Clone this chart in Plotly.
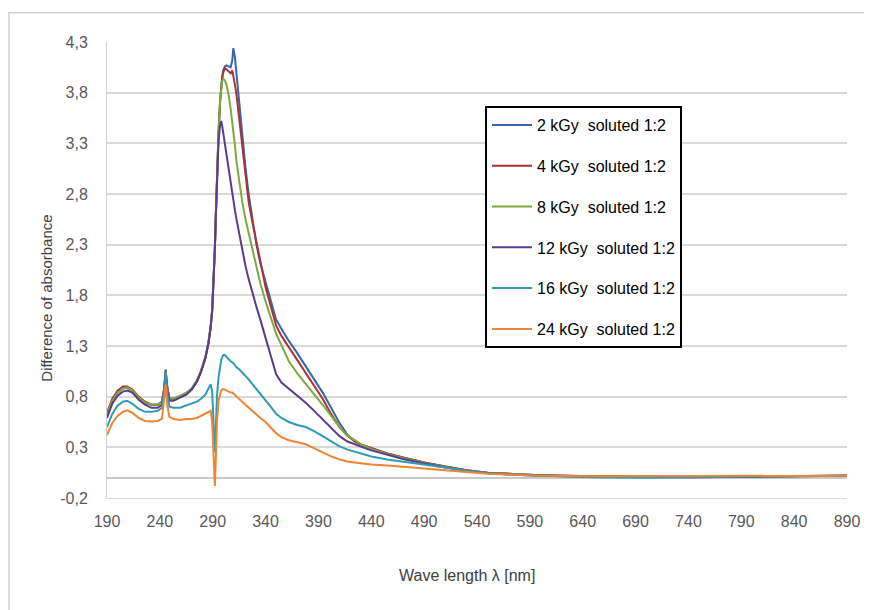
import plotly.graph_objects as go

wavelength = [190, 195, 200, 205, 209, 214, 220, 226, 232, 238, 242, 244, 245.5, 247, 249, 253, 259, 265, 270, 275,
              279, 283, 286, 288, 289.5, 291, 292, 293, 294, 295.5, 297, 298, 299, 300, 301.5, 303, 305, 307, 308.5, 309.5,
              311, 312.5, 315, 318, 321, 324, 327, 331, 335, 340, 345, 350, 355, 362, 370, 378, 386, 394, 402, 410,
              417, 424, 432, 440, 455, 470, 490, 510, 530, 550, 575, 600, 650, 700, 750, 800, 850, 890]

kgy2 = [0.62, 0.76, 0.84, 0.88, 0.89, 0.86, 0.79, 0.74, 0.72, 0.72, 0.75, 0.88, 1.07, 0.90, 0.78, 0.78, 0.80, 0.83, 0.87, 0.95,
        1.05, 1.18, 1.33, 1.48, 1.65, 1.95, 2.25, 2.60, 2.95, 3.40, 3.72, 3.86, 3.96, 4.02, 4.06, 4.07, 4.06, 4.05, 4.12, 4.24,
        4.15, 3.99, 3.68, 3.35, 3.06, 2.80, 2.58, 2.32, 2.12, 1.93, 1.76, 1.56, 1.47, 1.35, 1.23, 1.10, 0.97, 0.84, 0.69, 0.54,
        0.43, 0.36, 0.32, 0.29, 0.24, 0.20, 0.15, 0.11, 0.075, 0.05, 0.035, 0.025, 0.015, 0.01, 0.01, 0.015, 0.02, 0.02]

kgy4 = [0.64, 0.78, 0.86, 0.90, 0.90, 0.87, 0.80, 0.75, 0.72, 0.72, 0.75, 0.87, 1.05, 0.89, 0.78, 0.78, 0.80, 0.83, 0.87, 0.95,
        1.05, 1.18, 1.33, 1.48, 1.65, 1.95, 2.25, 2.60, 2.95, 3.40, 3.72, 3.86, 3.95, 4.00, 4.04, 4.03, 4.01, 3.99, 4.02, 3.97,
        3.88, 3.78, 3.55, 3.25, 2.97, 2.72, 2.55, 2.33, 2.14, 1.88, 1.69, 1.50, 1.40, 1.29, 1.17, 1.04, 0.91, 0.78, 0.63, 0.50,
        0.42, 0.36, 0.32, 0.29, 0.24, 0.20, 0.15, 0.11, 0.075, 0.05, 0.035, 0.025, 0.015, 0.01, 0.01, 0.015, 0.02, 0.02]

kgy8 = [0.62, 0.76, 0.84, 0.88, 0.89, 0.86, 0.79, 0.74, 0.72, 0.72, 0.75, 0.87, 1.04, 0.89, 0.78, 0.78, 0.81, 0.84, 0.88, 0.96,
        1.06, 1.19, 1.34, 1.49, 1.66, 1.96, 2.27, 2.62, 2.97, 3.42, 3.72, 3.85, 3.92, 3.94, 3.92, 3.88, 3.78, 3.64, 3.52, 3.43,
        3.28, 3.12, 2.93, 2.72, 2.55, 2.41, 2.27, 2.08, 1.92, 1.74, 1.59, 1.42, 1.31, 1.15, 1.03, 0.93, 0.83, 0.72, 0.61, 0.50,
        0.42, 0.37, 0.32, 0.285, 0.235, 0.195, 0.145, 0.105, 0.07, 0.048, 0.033, 0.023, 0.013, 0.008, 0.008, 0.013, 0.018, 0.02]

kgy12 = [0.59, 0.73, 0.81, 0.85, 0.86, 0.84, 0.77, 0.72, 0.69, 0.69, 0.72, 0.85, 1.02, 0.87, 0.76, 0.76, 0.79, 0.82, 0.87, 0.95,
         1.05, 1.18, 1.33, 1.48, 1.65, 1.95, 2.25, 2.60, 2.95, 3.33, 3.48, 3.52, 3.47, 3.40, 3.28, 3.16, 3.03, 2.90, 2.80, 2.74,
         2.64, 2.55, 2.41, 2.24, 2.09, 1.96, 1.84, 1.70, 1.56, 1.38, 1.20, 1.02, 0.94, 0.88, 0.81, 0.74, 0.66, 0.58, 0.49, 0.41,
         0.36, 0.33, 0.30, 0.27, 0.225, 0.185, 0.14, 0.10, 0.07, 0.045, 0.03, 0.02, 0.01, 0.005, 0.005, 0.01, 0.015, 0.02]

kgy16 = [0.50, 0.63, 0.71, 0.75, 0.76, 0.73, 0.68, 0.65, 0.65, 0.66, 0.69, 0.84, 1.03, 0.83, 0.70, 0.69, 0.69, 0.71, 0.73, 0.75,
         0.78, 0.82, 0.88, 0.92, 0.85, 0.45, 0.25, 0.50, 0.80, 0.99, 1.10, 1.16, 1.19, 1.21, 1.21, 1.19, 1.17, 1.15, 1.14, 1.13,
         1.11, 1.09, 1.07, 1.04, 1.01, 0.97, 0.93, 0.88, 0.83, 0.77, 0.70, 0.63, 0.59, 0.55, 0.52, 0.50, 0.46, 0.41, 0.36, 0.31,
         0.28, 0.26, 0.23, 0.21, 0.18, 0.16, 0.13, 0.10, 0.07, 0.045, 0.03, 0.02, 0.005, 0.0, 0.005, 0.01, 0.015, 0.02]

kgy24 = [0.42, 0.54, 0.61, 0.65, 0.665, 0.64, 0.59, 0.56, 0.555, 0.56, 0.58, 0.75, 0.92, 0.72, 0.60, 0.58, 0.57, 0.58, 0.58, 0.59,
         0.61, 0.63, 0.65, 0.66, 0.55, 0.05, -0.08, 0.20, 0.55, 0.76, 0.83, 0.86, 0.87, 0.875, 0.87, 0.86, 0.85, 0.84, 0.84, 0.835,
         0.82, 0.80, 0.78, 0.75, 0.72, 0.69, 0.66, 0.62, 0.59, 0.55, 0.49, 0.44, 0.40, 0.37, 0.35, 0.33, 0.29, 0.25, 0.21, 0.18,
         0.16, 0.15, 0.14, 0.13, 0.12, 0.11, 0.09, 0.075, 0.055, 0.04, 0.03, 0.02, 0.015, 0.015, 0.015, 0.02, 0.02, 0.02]

series_names = ["2 kGy  soluted 1:2", "4 kGy  soluted 1:2", "8 kGy  soluted 1:2",
                "12 kGy  soluted 1:2", "16 kGy  soluted 1:2", "24 kGy  soluted 1:2"]
series_values = [kgy2, kgy4, kgy8, kgy12, kgy16, kgy24]
colors = ["#3A64AC", "#A93234", "#7DAA3E", "#5B3B8D", "#2E9AB6", "#EE8434"]

y_tickvals = [-0.2, 0.3, 0.8, 1.3, 1.8, 2.3, 2.8, 3.3, 3.8, 4.3]
y_ticktext = ["-0,2", "0,3", "0,8", "1,3", "1,8", "2,3", "2,8", "3,3", "3,8", "4,3"]
x_tickvals = [190, 240, 290, 340, 390, 440, 490, 540, 590, 640, 690, 740, 790, 840, 890]
x_ticktext = [str(v) for v in x_tickvals]

x_title = "Wave length \u03bb [nm]"
y_title = "Difference of absorbance"

fig = go.Figure()
for name, vals, col in zip(series_names, series_values, colors):
    assert len(vals) == len(wavelength)
    fig.add_trace(go.Scatter(x=wavelength, y=vals, mode="lines", name=name,
                             legendgroup=name,
                             line=dict(color=col, width=2)))

font = "Liberation Sans, Arial, sans-serif"
# the page body adds an 8px offset; the figure is sized so the plot lands where the reference has it
fig.update_layout(
    width=864, height=602,
    margin=dict(l=99, r=25, t=34, b=112),
    paper_bgcolor="white", plot_bgcolor="white",
    font=dict(family=font, size=16, color="#595959"),
    showlegend=True,
    legend=dict(x=0.5108, y=0.8596, xanchor="left", yanchor="top",
                bgcolor="white", bordercolor="black", borderwidth=2,
                font=dict(family=font, size=16, color="black"),
                tracegroupgap=17, itemwidth=40),
    xaxis=dict(range=[190, 890], tickvals=x_tickvals, ticktext=x_ticktext,
               showgrid=False, zeroline=False, showline=True, linecolor="#D9D9D9", linewidth=1,
               ticks="", ticklabelstandoff=9),
    yaxis=dict(range=[-0.2, 4.3], tickvals=y_tickvals, ticktext=y_ticktext,
               showgrid=True, gridcolor="#D9D9D9", gridwidth=1.5,
               zeroline=True, zerolinecolor="#C8C8C8", zerolinewidth=1.5,
               showline=True, linecolor="#D0D0D0", linewidth=1,
               ticks="", ticklabelstandoff=15),
    annotations=[
        dict(text=x_title, xref="paper", yref="paper", x=0.486, y=-0.1689,
             xanchor="center", yanchor="middle", showarrow=False,
             font=dict(family=font, size=16, color="#404040")),
        dict(text=y_title, xref="paper", yref="paper", x=-0.0815, y=0.4386,
             xanchor="center", yanchor="middle", showarrow=False, textangle=-90,
             font=dict(family=font, size=15, color="#404040")),
    ],
    shapes=[dict(type="rect", xref="paper", yref="paper",
                 x0=-0.1324, x1=1.2, y0=-0.4, y1=1.0643,
                 line=dict(color="#D0D0D0", width=1.5), fillcolor="rgba(0,0,0,0)", layer="below")],
)

fig.write_html("out.html")
